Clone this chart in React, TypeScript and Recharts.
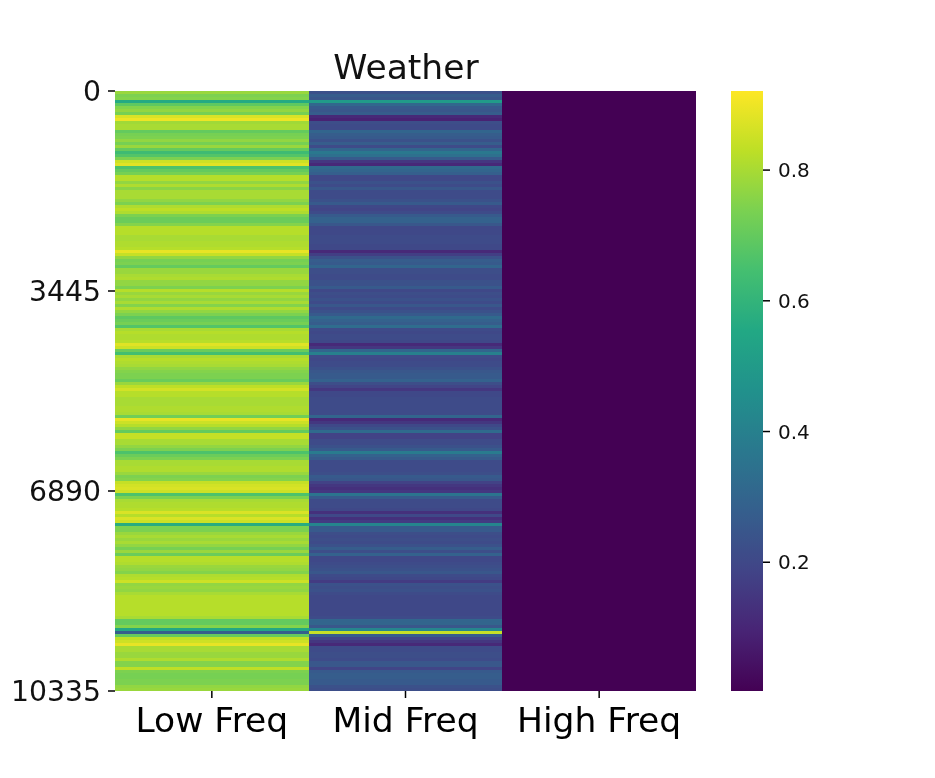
import { Bar, BarChart, Cell, XAxis, YAxis } from "recharts";

// band labels and y axis ticks
const bands = ["Low Freq", "Mid Freq", "High Freq"];
const rowTicks = [0, 3445, 6890, 10335];
const ROW_MAX = 10335;

// values, one per 3px row, top to bottom
const lowFreq = [
  0.78, 0.74, 0.75, 0.56, 0.69, 0.75, 0.77, 0.73, 0.87, 0.9, 0.79, 0.8, 0.8, 0.7, 0.73, 0.74, 0.77,
  0.73, 0.78, 0.7, 0.63, 0.67, 0.74, 0.85, 0.88, 0.66, 0.7, 0.73, 0.82, 0.82, 0.77, 0.81, 0.76, 0.8,
  0.8, 0.8, 0.77, 0.74, 0.81, 0.83, 0.81, 0.74, 0.71, 0.71, 0.75, 0.82, 0.82, 0.82, 0.8, 0.8, 0.81,
  0.81, 0.82, 0.89, 0.84, 0.77, 0.73, 0.74, 0.7, 0.78, 0.78, 0.8, 0.81, 0.77, 0.77, 0.74, 0.82,
  0.78, 0.8, 0.77, 0.8, 0.75, 0.81, 0.77, 0.74, 0.69, 0.71, 0.73, 0.67, 0.8, 0.82, 0.81, 0.81, 0.82,
  0.88, 0.85, 0.71, 0.64, 0.8, 0.82, 0.81, 0.8, 0.77, 0.75, 0.74, 0.74, 0.71, 0.78, 0.83, 0.86,
  0.82, 0.82, 0.8, 0.8, 0.8, 0.81, 0.81, 0.8, 0.72, 0.89, 0.85, 0.82, 0.77, 0.7, 0.84, 0.84, 0.8,
  0.8, 0.77, 0.74, 0.66, 0.71, 0.74, 0.8, 0.8, 0.81, 0.81, 0.78, 0.74, 0.75, 0.84, 0.86, 0.87,
  0.85, 0.66, 0.74, 0.8, 0.81, 0.81, 0.82, 0.87, 0.82, 0.87, 0.85, 0.57, 0.74, 0.74, 0.78, 0.8, 0.78,
  0.8, 0.77, 0.73, 0.78, 0.71, 0.82, 0.82, 0.81, 0.78, 0.77, 0.75, 0.81, 0.82, 0.85, 0.77, 0.78,
  0.77, 0.8, 0.82, 0.82, 0.82, 0.82, 0.82, 0.82, 0.82, 0.8, 0.7, 0.7, 0.75, 0.55, 0.28, 0.7, 0.83,
  0.85, 0.89, 0.8, 0.8, 0.78, 0.78, 0.81, 0.75, 0.75, 0.83, 0.74, 0.73, 0.73, 0.74, 0.74, 0.77, 0.78,
];
const midFreq = [
  0.23, 0.27, 0.25, 0.5, 0.31, 0.26, 0.25, 0.27, 0.11, 0.09, 0.22, 0.21, 0.21, 0.3, 0.27, 0.26, 0.23,
  0.27, 0.21, 0.3, 0.37, 0.34, 0.26, 0.15, 0.11, 0.32, 0.3, 0.28, 0.2, 0.2, 0.23, 0.21, 0.25, 0.21,
  0.21, 0.21, 0.23, 0.26, 0.2, 0.19, 0.21, 0.26, 0.29, 0.29, 0.25, 0.2, 0.2, 0.2, 0.21, 0.21, 0.21,
  0.2, 0.2, 0.11, 0.17, 0.23, 0.27, 0.26, 0.3, 0.22, 0.22, 0.21, 0.21, 0.23, 0.23, 0.26, 0.2,
  0.22, 0.21, 0.23, 0.21, 0.25, 0.21, 0.23, 0.26, 0.32, 0.29, 0.27, 0.33, 0.21, 0.2, 0.21, 0.21, 0.2,
  0.11, 0.15, 0.3, 0.4, 0.21, 0.2, 0.21, 0.21, 0.23, 0.25, 0.26, 0.26, 0.29, 0.22, 0.19, 0.15,
  0.2, 0.2, 0.21, 0.21, 0.21, 0.21, 0.21, 0.21, 0.3, 0.11, 0.15, 0.2, 0.23, 0.32, 0.18, 0.18, 0.21,
  0.21, 0.23, 0.26, 0.38, 0.29, 0.26, 0.21, 0.21, 0.21, 0.21, 0.22, 0.26, 0.25, 0.18, 0.15, 0.13,
  0.15, 0.36, 0.26, 0.21, 0.21, 0.21, 0.2, 0.13, 0.2, 0.13, 0.16, 0.42, 0.26, 0.26, 0.22, 0.21, 0.22,
  0.21, 0.23, 0.27, 0.22, 0.29, 0.2, 0.2, 0.21, 0.22, 0.23, 0.25, 0.21, 0.2, 0.16, 0.23, 0.22,
  0.23, 0.21, 0.2, 0.2, 0.2, 0.2, 0.2, 0.2, 0.2, 0.21, 0.3, 0.3, 0.25, 0.42, 0.84, 0.27, 0.19,
  0.15, 0.11, 0.21, 0.21, 0.22, 0.22, 0.21, 0.25, 0.25, 0.19, 0.26, 0.27, 0.27, 0.26, 0.26, 0.23, 0.22,
];
const HIGH_VALUE = 0.004;

// colorbar
const colorTicks = [0.2, 0.4, 0.6, 0.8];
const COLOR_MIN = 0.003;
const COLOR_MAX = 0.921;
const viridis = [
  "#440154", "#482475", "#414487", "#355f8d", "#2a788e", "#21918c",
  "#22a884", "#44bf70", "#7ad151", "#bddf26", "#fde725",
];

function hexToRgb(hex: string) {
  return [1, 3, 5].map((i) => parseInt(hex.slice(i, i + 2), 16));
}

function colorOf(value: number) {
  const t = Math.min(1, Math.max(0, (value - COLOR_MIN) / (COLOR_MAX - COLOR_MIN)));
  const pos = t * (viridis.length - 1);
  const i = Math.min(viridis.length - 2, Math.floor(pos));
  const a = hexToRgb(viridis[i]);
  const b = hexToRgb(viridis[i + 1]);
  const c = a.map((v, k) => Math.round(v + (b[k] - v) * (pos - i)));
  return `rgb(${c[0]},${c[1]},${c[2]})`;
}

const rowStep = ROW_MAX / lowFreq.length;
const rows = lowFreq.map((low, i) => ({
  row: (i + 0.5) * rowStep,
  low,
  mid: midFreq[i],
  high: HIGH_VALUE,
  a: 1,
  b: 1,
  c: 1,
}));

const FONT = "DejaVu Sans";
const rowHeight = 600 / lowFreq.length;

export default function App() {
  return (
    <div
      style={{
        position: "absolute",
        left: 0,
        top: 0,
        width: 935,
        height: 778,
        background: "#fff",
        filter: "blur(0.6px)",
      }}
    >
      <div style={{ position: "absolute", left: 0, top: 0 }}>
        <BarChart
          width={696}
          height={778}
          data={rows}
          layout="vertical"
          barCategoryGap={0}
          margin={{ top: 91, right: 0, bottom: 0, left: 0 }}
        >
          <XAxis
            type="number"
            domain={[0, 3]}
            ticks={[0.5, 1.5, 2.5]}
            tickFormatter={(v: number) => bands[Math.floor(v)]}
            height={87}
            axisLine={false}
            tickSize={7}
            tickMargin={10}
            tickLine={{ stroke: "#000", strokeWidth: 1.5 }}
            tick={{ fill: "#000", fontSize: 34.5, fontFamily: FONT }}
            interval={0}
          />
          <YAxis
            type="number"
            dataKey="row"
            domain={[0, ROW_MAX]}
            ticks={rowTicks}
            width={115}
            axisLine={false}
            tickSize={7}
            tickMargin={7}
            tickLine={{ stroke: "#000", strokeWidth: 1.5 }}
            tick={{ fill: "#111", fontSize: 28.3, fontFamily: FONT }}
            interval={0}
          />
          {(["a", "b", "c"] as const).map((key, k) => (
            <Bar
              key={key}
              dataKey={key}
              stackId="bands"
              barSize={rowHeight}
              isAnimationActive={false}
              shapeRendering="crispEdges"
            >
              {rows.map((r) => (
                <Cell key={r.row} fill={colorOf(k === 0 ? r.low : k === 1 ? r.mid : r.high)} />
              ))}
            </Bar>
          ))}
          <text x={406} y={79} textAnchor="middle" fontSize={34.5} fontFamily={FONT} fill="#111">
            Weather
          </text>
        </BarChart>
      </div>
      <div style={{ position: "absolute", left: 731, top: 0 }}>
        <BarChart
          width={104}
          height={778}
          data={[{ name: "scale", range: [COLOR_MIN, COLOR_MAX] }]}
          barCategoryGap={0}
          margin={{ top: 91, right: 0, bottom: 87, left: 0 }}
        >
          <defs>
            <linearGradient id="viridisBar" x1="0" y1="1" x2="0" y2="0">
              {viridis.map((c, i) => (
                <stop key={c} offset={i / (viridis.length - 1)} stopColor={c} />
              ))}
            </linearGradient>
          </defs>
          <XAxis dataKey="name" hide />
          <YAxis
            orientation="right"
            type="number"
            domain={[COLOR_MIN, COLOR_MAX]}
            ticks={colorTicks}
            width={72}
            axisLine={false}
            tickSize={7}
            tickMargin={8}
            tickLine={{ stroke: "#000", strokeWidth: 1.5 }}
            tick={{ fill: "#111", fontSize: 20, fontFamily: FONT }}
            tickFormatter={(v: number) => v.toFixed(1)}
            interval={0}
          />
          <Bar dataKey="range" fill="url(#viridisBar)" isAnimationActive={false} />
        </BarChart>
      </div>
    </div>
  );
}
